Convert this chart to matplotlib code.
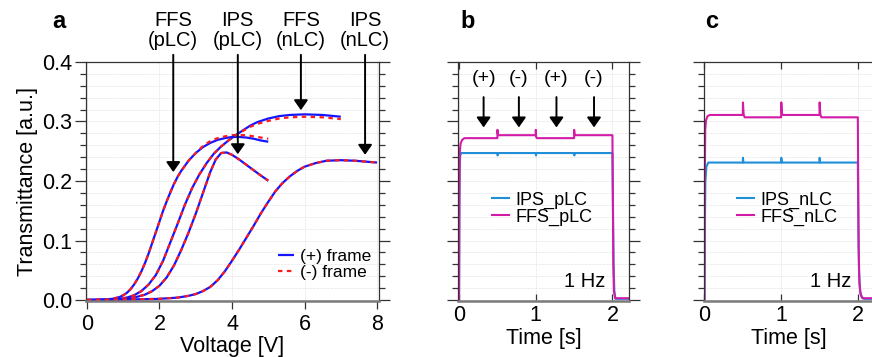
import matplotlib
matplotlib.use('Agg')
import matplotlib.pyplot as plt
from matplotlib.ticker import MultipleLocator, FormatStrFormatter

plt.rcParams['font.family'] = ['Liberation Sans', 'DejaVu Sans']

# ---- V-T curves (panel a) ----
v_ffs_p = [0, 0.4, 0.7, 0.9, 1.0, 1.1, 1.2, 1.3, 1.4, 1.5, 1.6, 1.7, 1.8, 1.9, 2.0, 2.1,
           2.2, 2.3, 2.4, 2.5, 2.6, 2.8, 3.0, 3.2, 3.4, 3.6, 3.8, 4.0, 4.2, 4.4, 4.6, 4.8, 5.0]
t_ffs_p_pos = [0, 0.0005, 0.002, 0.005, 0.008, 0.012, 0.018, 0.026, 0.036, 0.048, 0.062, 0.078,
               0.096, 0.114, 0.132, 0.150, 0.166, 0.181, 0.195, 0.207, 0.217, 0.234, 0.247, 0.257,
               0.264, 0.269, 0.272, 0.274, 0.274, 0.273, 0.271, 0.268, 0.266]
t_ffs_p_neg = [0, 0.0005, 0.002, 0.005, 0.008, 0.012, 0.018, 0.026, 0.036, 0.048, 0.062, 0.078,
               0.096, 0.114, 0.132, 0.150, 0.166, 0.181, 0.195, 0.207, 0.217, 0.234, 0.247, 0.259,
               0.267, 0.272, 0.275, 0.277, 0.277, 0.277, 0.275, 0.273, 0.271]

v_ffs_n = [0, 0.5, 0.9, 1.1, 1.3, 1.5, 1.7, 1.9, 2.1, 2.3, 2.5, 2.7, 2.9, 3.1, 3.3, 3.5,
           3.7, 3.9, 4.1, 4.3, 4.5, 4.7, 5.0, 5.3, 5.6, 6.0, 6.5, 7.0]
t_ffs_n_pos = [0, 0.0005, 0.002, 0.004, 0.008, 0.015, 0.026, 0.042, 0.066, 0.097, 0.128, 0.160,
               0.188, 0.211, 0.230, 0.246, 0.258, 0.268, 0.277, 0.285, 0.293, 0.299, 0.305, 0.309,
               0.311, 0.312, 0.311, 0.308]
t_ffs_n_neg = [0, 0.0005, 0.002, 0.004, 0.008, 0.015, 0.026, 0.042, 0.066, 0.097, 0.128, 0.160,
               0.188, 0.211, 0.230, 0.246, 0.258, 0.268, 0.277, 0.284, 0.291, 0.296, 0.301, 0.305,
               0.307, 0.308, 0.307, 0.304]

v_ips_p = [0, 0.6, 1.0, 1.3, 1.6, 1.8, 2.0, 2.2, 2.4, 2.6, 2.8, 3.0, 3.2, 3.4, 3.55, 3.7,
           3.85, 4.0, 4.2, 4.4, 4.6, 4.8, 5.0]
t_ips_p_pos = [0, 0.0005, 0.0015, 0.004, 0.009, 0.015, 0.024, 0.038, 0.058, 0.084, 0.113, 0.145,
               0.180, 0.215, 0.236, 0.247, 0.248, 0.244, 0.236, 0.227, 0.218, 0.209, 0.2005]
t_ips_p_neg = t_ips_p_pos

v_ips_n = [0, 1.0, 2.0, 2.5, 2.8, 3.0, 3.2, 3.4, 3.6, 3.8, 4.0, 4.2, 4.4, 4.6, 4.8, 5.0,
           5.2, 5.4, 5.6, 5.8, 6.0, 6.3, 6.6, 7.0, 7.4, 7.8, 8.0]
t_ips_n_pos = [0, 0.0005, 0.002, 0.004, 0.007, 0.010, 0.015, 0.022, 0.033, 0.048, 0.066, 0.085,
               0.105, 0.125, 0.146, 0.165, 0.183, 0.197, 0.208, 0.217, 0.224, 0.230, 0.234,
               0.235, 0.234, 0.232, 0.231]
t_ips_n_neg = t_ips_n_pos

curve_labels = ['FFS\n(pLC)', 'IPS\n(pLC)', 'FFS\n(nLC)', 'IPS\n(nLC)']
label_x = [2.38, 4.16, 5.90, 7.67]
arrow_tip = [0.215, 0.245, 0.319, 0.244]

# ---- time response, 1 Hz (panels b, c) ----
time_b_ips = [-0.01, 0.0, 0.004, 0.008, 0.015, 0.03, 0.5, 0.503, 0.508, 1.0, 1.003, 1.008,
              1.5, 1.503, 1.508, 2.0, 2.006, 2.015, 2.025, 2.04, 2.22]
trans_b_ips = [0, 0, 0.15, 0.225, 0.243, 0.247, 0.247, 0.243, 0.247, 0.247, 0.243, 0.247,
               0.247, 0.243, 0.247, 0.247, 0.17, 0.06, 0.015, 0.002, 0.002]
time_b_ffs = [-0.01, 0.0, 0.004, 0.01, 0.02, 0.04, 0.07, 0.5, 0.501, 0.505, 0.515, 1.0, 1.001,
              1.005, 1.015, 1.5, 1.501, 1.505, 1.515, 2.0, 2.004, 2.012, 2.02, 2.035, 2.22]
trans_b_ffs = [0, 0, 0.17, 0.25, 0.263, 0.269, 0.272, 0.272, 0.286, 0.279, 0.277, 0.277, 0.286,
               0.274, 0.272, 0.272, 0.286, 0.279, 0.277, 0.277, 0.20, 0.06, 0.015, 0.003, 0.003]

time_c_ips = [-0.01, 0.0, 0.005, 0.012, 0.025, 0.05, 0.5, 0.502, 0.508, 1.0, 1.002, 1.008,
              1.5, 1.502, 1.508, 2.0, 2.006, 2.015, 2.03, 2.05, 2.08, 2.22]
trans_c_ips = [0, 0, 0.12, 0.20, 0.224, 0.231, 0.231, 0.239, 0.231, 0.231, 0.239, 0.231,
               0.231, 0.239, 0.231, 0.231, 0.14, 0.05, 0.015, 0.005, 0.002, 0.002]
time_c_ffs = [-0.01, 0.0, 0.004, 0.01, 0.02, 0.04, 0.07, 0.5, 0.502, 0.506, 0.512, 0.525, 1.0,
              1.002, 1.006, 1.012, 1.025, 1.5, 1.502, 1.506, 1.512, 1.525, 2.0, 2.004, 2.01,
              2.02, 2.035, 2.06, 2.22]
trans_c_ffs = [0, 0, 0.20, 0.285, 0.302, 0.309, 0.311, 0.311, 0.332, 0.322, 0.311, 0.307, 0.307,
               0.332, 0.322, 0.313, 0.311, 0.311, 0.332, 0.322, 0.311, 0.307, 0.307, 0.22, 0.09,
               0.03, 0.01, 0.003, 0.003]

frame_marks = ['(+)', '(-)', '(+)', '(-)']
frame_mark_t = [0.32, 0.78, 1.27, 1.76]

BLUE = '#1f8fd9'
MAGENTA = '#d41ba8'
GRID = '#d9d9d9'
FS = 15.5


def style_axes(ax):
	'''common frame, tick and grid style'''
	for side in ['left', 'right', 'top']:
		ax.spines[side].set_color('#333333')
		ax.spines[side].set_linewidth(0.9)
	ax.spines['bottom'].set_color('#7a7a7a')
	ax.spines['bottom'].set_linewidth(1.8)
	ax.set_ylim(-0.002, 0.4005)
	ax.yaxis.set_major_locator(MultipleLocator(0.1))
	ax.yaxis.set_minor_locator(MultipleLocator(0.02))
	ax.tick_params(axis='y', which='both', direction='out', left=True, right=True,
		color='#333333', width=0.9)
	ax.tick_params(axis='y', which='major', length=8)
	ax.tick_params(axis='y', which='minor', length=4.5)
	ax.tick_params(axis='x', labelsize=FS, pad=3, color='#333333', width=0.9)
	ax.grid(which='both', axis='y', color=GRID, linewidth=0.5, linestyle=(0, (1, 1)))
	ax.grid(which='major', axis='x', color=GRID, linewidth=0.5, linestyle=(0, (1, 1)))
	ax.set_axisbelow(True)


fig = plt.figure(figsize=(8.72, 3.57), dpi=100)
ax_a = fig.add_axes([85.5/872, 0.1563, 293/872, 0.6709])
ax_b = fig.add_axes([458.3/872, 0.1563, 171/872, 0.6709])
ax_c = fig.add_axes([703.7/872, 0.1563, 171/872, 0.6709])

# panel a: V-T curves for both frame polarities
pos_sets = [(v_ffs_p, t_ffs_p_pos), (v_ffs_n, t_ffs_n_pos), (v_ips_p, t_ips_p_pos), (v_ips_n, t_ips_n_pos)]
neg_sets = [(v_ffs_p, t_ffs_p_neg), (v_ffs_n, t_ffs_n_neg), (v_ips_p, t_ips_p_neg), (v_ips_n, t_ips_n_neg)]
for (v, tp), (_, tn) in zip(pos_sets, neg_sets):
	lp, = ax_a.plot(v, tp, color='#1414ff', lw=1.6, solid_capstyle='butt')
	ln, = ax_a.plot(v, tn, color='#ff1a1a', lw=1.6, dashes=(2, 2))
ax_a.legend([lp, ln], ['(+) frame', '(-) frame'], loc='center left',
	bbox_to_anchor=((278-85.5)/293, 0.155), frameon=False, fontsize=12.5,
	handlelength=0.9, handletextpad=0.35, labelspacing=0.05, borderpad=0, borderaxespad=0)

style_axes(ax_a)
ax_a.set_xlim(-0.04, 8.04)
ax_a.xaxis.set_major_locator(MultipleLocator(2))
ax_a.yaxis.set_major_formatter(FormatStrFormatter('%.1f'))
ax_a.tick_params(axis='y', labelsize=FS, pad=1.5, labelright=False)
ax_a.tick_params(axis='x', direction='out', length=6)
ax_a.set_xlabel('Voltage [V]', fontsize=FS, labelpad=1)
ax_a.set_ylabel('Transmittance [a.u.]', fontsize=FS, labelpad=3)

for lab, x, tip in zip(curve_labels, label_x, arrow_tip):
	ax_a.annotate('', xy=(x, tip), xytext=(x, 0.412), annotation_clip=False,
		arrowprops=dict(arrowstyle='-|>,head_length=0.6,head_width=0.42', color='k',
			lw=1.4, shrinkA=0, shrinkB=0, mutation_scale=10))
	ax_a.text(x, 0.453, lab, ha='center', va='center', fontsize=14.5, linespacing=1.1,
		clip_on=False)

# panels b and c: optical response to a 1 Hz drive
ax_b.plot(time_b_ips, trans_b_ips, color=BLUE, lw=1.5, label='IPS_pLC')
ax_b.plot(time_b_ffs, trans_b_ffs, color=MAGENTA, lw=1.5, label='FFS_pLC')
ax_c.plot(time_c_ips, trans_c_ips, color=BLUE, lw=1.5, label='IPS_nLC')
ax_c.plot(time_c_ffs, trans_c_ffs, color=MAGENTA, lw=1.5, label='FFS_nLC')

for ax, lx, hz_x in [(ax_b, 0.197, 0.858), (ax_c, 0.195, 0.8655)]:
	style_axes(ax)
	ax.set_xlim(-0.01, 2.22)
	ax.xaxis.set_major_locator(MultipleLocator(1))
	ax.tick_params(axis='x', direction='in', top=True, length=5)
	ax.tick_params(axis='y', labelleft=False)
	ax.set_xlabel('Time [s]', fontsize=FS, labelpad=1)
	ax.legend(loc='center left', bbox_to_anchor=(lx, 0.387), frameon=False, fontsize=13,
		handlelength=0.95, handletextpad=0.35, labelspacing=0.0, borderpad=0, borderaxespad=0)
	ax.text(hz_x, 0.081, '1 Hz', transform=ax.transAxes, ha='right', va='center', fontsize=14.5)

for mark, t in zip(frame_marks, frame_mark_t):
	ax_b.annotate('', xy=(t, 0.29), xytext=(t, 0.341),
		arrowprops=dict(arrowstyle='-|>,head_length=0.6,head_width=0.42', color='k',
			lw=1.4, shrinkA=0, shrinkB=0, mutation_scale=10))
	ax_b.text(t, 0.373, mark, ha='center', va='center', fontsize=14)

for letter, x in zip(['a', 'b', 'c'], [52/872, 460/872, 705/872]):
	fig.text(x, 0.9207, letter, ha='left', va='baseline', fontsize=17, fontweight='bold')

fig.savefig('out.png', dpi=100)
